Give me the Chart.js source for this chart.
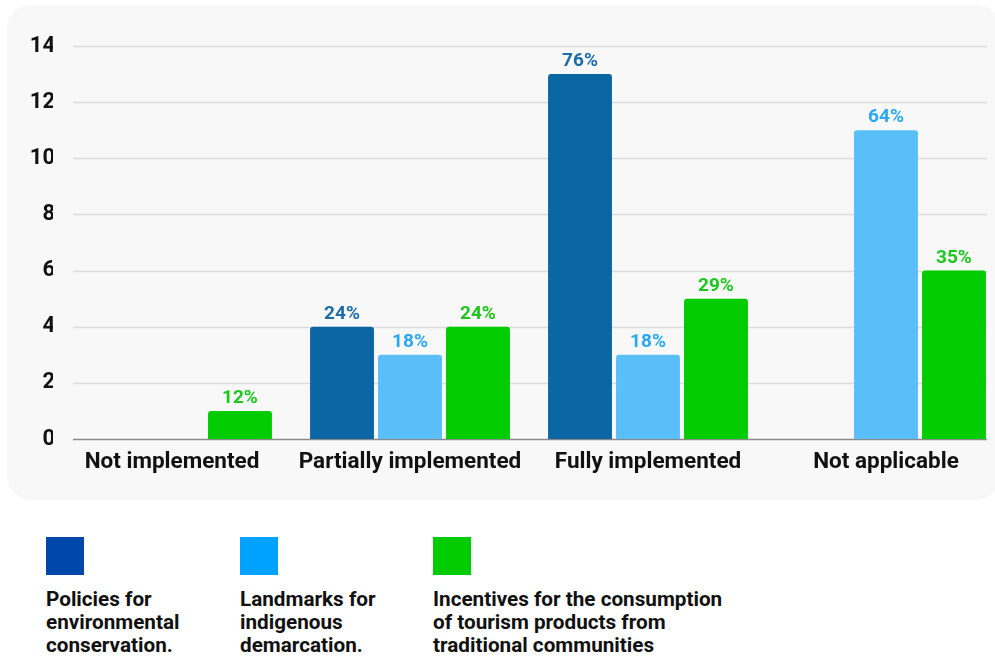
<!DOCTYPE html>
<html>
<head>
<meta charset="utf-8">
<script src="https://cdn.jsdelivr.net/npm/chart.js@4/dist/chart.umd.min.js"></script>
<style>
  html, body { margin: 0; padding: 0; background: #ffffff; overflow: hidden; }
  body { width: 995px; height: 659px; position: relative; font-family: Roboto, "Noto Sans", sans-serif; }
  .panel { position: absolute; left: 7px; top: 5px; width: 993px; height: 495px; background: #f8f8f9; border-radius: 24px; }
  .wrap { position: absolute; left: -5px; top: 0; width: 1015px; height: 500px; }
  .legend { position: absolute; top: 537px; left: 0; width: 995px; }
  .item { position: absolute; top: 0; }
  .swatch { width: 38px; height: 38px; }
  .label { margin-top: 13px; font-weight: 700; font-size: 20.7px; line-height: 23px; color: #111; white-space: nowrap; }
</style>
</head>
<body>
<div class="panel"></div>
<div class="wrap"><canvas id="c" width="1015" height="500"></canvas></div>
<div class="legend" id="legend"></div>
<script>
// Categories and series
const categories = ["Not implemented", "Partially implemented", "Fully implemented", "Not applicable"];
const seriesNames = [
  "Policies for\nenvironmental\nconservation.",
  "Landmarks for\nindigenous\ndemarcation.",
  "Incentives for the consumption\nof tourism products from\ntraditional communities"
];
const policies   = [0, 4, 13, 0];
const landmarks  = [0, 3, 3, 11];
const incentives = [1, 4, 5, 6];
// Share labels shown above each bar
const policiesPct   = ["", "24%", "76%", ""];
const landmarksPct  = ["", "18%", "18%", "64%"];
const incentivesPct = ["12%", "24%", "29%", "35%"];
const yTicks = [0, 2, 4, 6, 8, 10, 12, 14];

const barColors    = ["#0A67A3", "#5ABEF8", "#00CC00"];
const labelColors  = ["#1C6CA8", "#2AA7F5", "#1DC81D"];
const swatchColors = ["#0047AB", "#00A2FF", "#00CC00"];
const legendX = [46, 240, 433];

// Legend
const legendEl = document.getElementById('legend');
seriesNames.forEach((name, i) => {
  const item = document.createElement('div');
  item.className = 'item';
  item.style.left = legendX[i] + 'px';
  const sw = document.createElement('div');
  sw.className = 'swatch';
  sw.style.background = swatchColors[i];
  const lb = document.createElement('div');
  lb.className = 'label';
  lb.innerHTML = name.split('\n').join('<br>');
  item.appendChild(sw);
  item.appendChild(lb);
  legendEl.appendChild(item);
});

const pctLabels = [policiesPct, landmarksPct, incentivesPct];

// Horizontal grid lines and baseline, drawn from the y scale
const gridPlugin = {
  id: 'panelGrid',
  beforeDatasetsDraw(chart) {
    const ctx = chart.ctx, y = chart.scales.y;
    ctx.save();
    yTicks.forEach(v => {
      const py = Math.round(y.getPixelForValue(v)) + 0.5;
      ctx.beginPath();
      ctx.moveTo(78, py);
      ctx.lineTo(992, py);
      ctx.lineWidth = 1.5;
      ctx.strokeStyle = v === 0 ? '#8a8a8a' : '#dcdcdc';
      ctx.stroke();
    });
    ctx.restore();
  }
};

// Percentage labels above bars
const valueLabels = {
  id: 'valueLabels',
  afterDatasetsDraw(chart) {
    const ctx = chart.ctx;
    ctx.save();
    ctx.font = '700 19px Roboto';
    ctx.textAlign = 'center';
    ctx.textBaseline = 'alphabetic';
    chart.data.datasets.forEach((ds, di) => {
      const meta = chart.getDatasetMeta(di);
      meta.data.forEach((bar, i) => {
        const t = pctLabels[di][i];
        if (!t) return;
        ctx.fillStyle = labelColors[di];
        ctx.fillText(t, bar.x, bar.y - 8);
      });
    });
    ctx.restore();
  }
};

new Chart(document.getElementById('c'), {
  type: 'bar',
  data: {
    labels: categories,
    datasets: [
      { label: seriesNames[0], data: policies,   backgroundColor: barColors[0] },
      { label: seriesNames[1], data: landmarks,  backgroundColor: barColors[1] },
      { label: seriesNames[2], data: incentives, backgroundColor: barColors[2] }
    ]
  },
  options: {
    responsive: false,
    animation: false,
    devicePixelRatio: 1,
    layout: { padding: { top: 46, right: 5, left: 0, bottom: 0 } },
    datasets: {
      bar: {
        categoryPercentage: 0.857,
        barPercentage: 0.94,
        borderRadius: { topLeft: 3, topRight: 3, bottomLeft: 0, bottomRight: 0 },
        borderSkipped: false
      }
    },
    plugins: { legend: { display: false }, tooltip: { enabled: false } },
    scales: {
      x: {
        grid: { display: false, drawTicks: false },
        border: { display: false },
        ticks: { color: '#111', font: { family: 'Roboto', size: 22.5, weight: '700' }, padding: 10, maxRotation: 0, autoSkip: false },
        afterFit(s) { s.height = 61; }
      },
      y: {
        min: 0, max: 14,
        grid: { display: false, drawTicks: false },
        border: { display: false },
        ticks: { stepSize: 2, color: '#111', font: { family: 'Roboto', size: 22, weight: '700' }, padding: -2 },
        afterFit(s) { s.width = 58; }
      }
    }
  },
  plugins: [gridPlugin, valueLabels]
});
</script>
</body>
</html>
